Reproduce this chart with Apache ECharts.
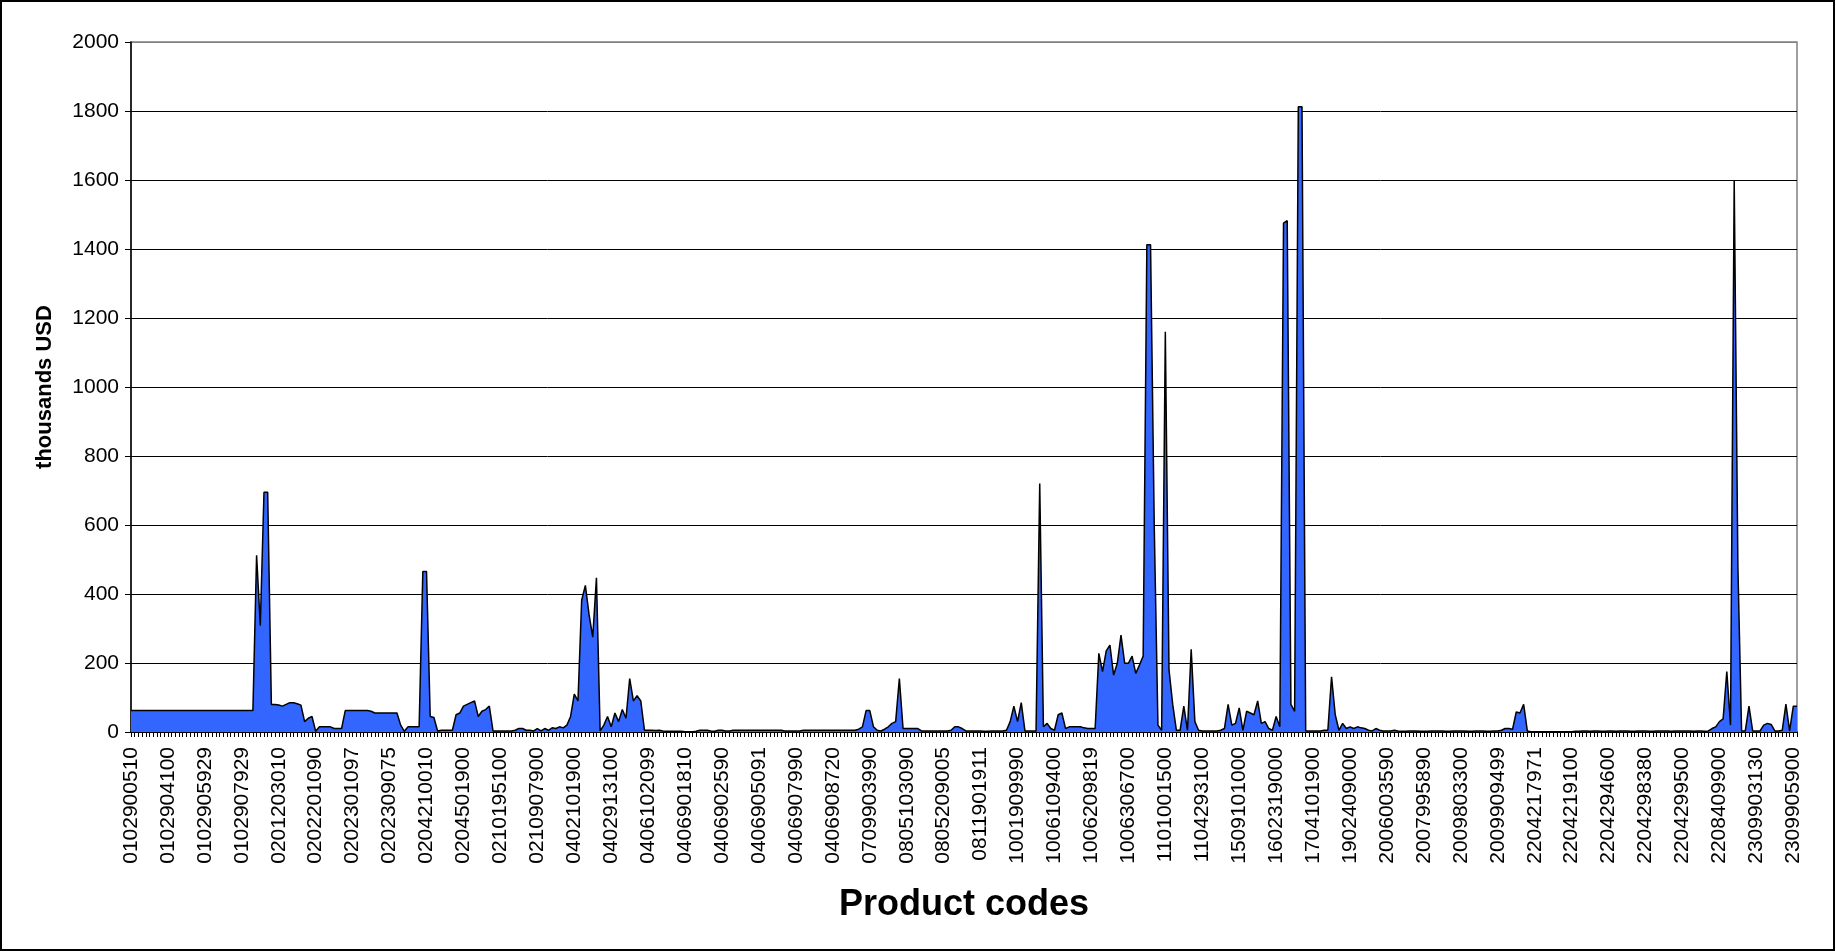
<!DOCTYPE html>
<html>
<head>
<meta charset="utf-8">
<script src="https://cdn.jsdelivr.net/npm/echarts@6/dist/echarts.min.js"></script>
<style>
html,body{margin:0;padding:0;background:#fff;}
#chart{width:1836px;height:952px;}
</style>
</head>
<body>
<div id="chart"></div>
<script>
// Labelled product codes (every 10th category)
const tickLabels = ["0102900510","0102904100","0102905929","0102907929","0201203010","0202201090","0202301097","0202309075","0204210010","0204501900","0210195100","0210907900","0402101900","0402913100","0406102099","0406901810","0406902590","0406905091","0406907990","0406908720","0709903990","0805103090","0805209005","0811901911","1001909990","1006109400","1006209819","1006306700","1101001500","1104293100","1509101000","1602319000","1704101900","1902409000","2006003590","2007995890","2009803300","2009909499","2204217971","2204219100","2204294600","2204298380","2204299500","2208409900","2309903130","2309905900"];
const labelEvery = 10;

// Values in thousands USD, one per product code
const values = [
62,62,62,62,62,62,62,62,62,62,
62,62,62,62,62,62,62,62,62,62,
62,62,62,62,62,62,62,62,62,62,
62,62,62,62,512,308,695,695,80,80,
78,75,80,85,85,82,78,30,40,45,
2,15,15,15,15,10,10,10,62,62,
62,62,62,62,62,60,55,55,55,55,
55,55,55,20,2,15,15,15,15,465,
465,45,42,3,5,5,5,5,50,55,
75,80,85,90,45,60,65,75,3,3,
3,3,3,3,5,10,10,5,5,3,
10,3,10,5,12,10,15,12,20,45,
110,90,382,425,340,275,447,3,20,45,
15,55,30,65,40,155,90,105,90,5,
5,5,4,5,3,2,2,2,2,2,
1,1,1,2,5,5,5,3,2,5,
5,3,3,5,5,5,5,5,5,5,
5,5,5,5,5,5,5,3,3,3,
3,3,5,5,5,5,5,5,5,5,
5,5,5,5,5,5,5,8,15,62,
62,15,5,3,8,15,25,30,155,10,
10,10,10,10,3,3,3,3,3,3,
3,3,5,15,15,10,3,3,3,3,
3,2,2,3,3,3,3,5,30,75,
30,85,3,3,3,3,720,15,25,10,
5,50,55,10,15,15,15,15,12,10,
10,10,228,175,235,252,165,199,281,199,
199,220,170,194,220,1412,1412,600,20,5,
1160,180,80,5,5,75,5,240,30,5,
3,3,3,3,3,5,10,80,20,25,
70,5,60,55,50,90,25,30,10,5,
45,15,1475,1482,80,60,1812,1812,3,3,
3,3,3,5,5,160,50,5,25,10,
15,10,15,12,10,5,3,10,5,3,
3,3,5,3,2,2,3,3,3,2,
2,2,3,3,3,3,2,2,3,3,
3,3,2,2,3,3,3,2,2,3,
3,5,10,10,8,58,55,80,3,1,
1,1,1,1,1,1,1,1,1,1,
1,2,2,3,3,2,3,3,2,2,
3,3,2,3,3,3,2,2,3,3,
3,2,2,3,3,3,3,2,3,3,
3,3,3,2,3,3,2,3,10,15,
30,38,175,20,1600,480,3,3,75,3,
3,3,20,25,22,3,3,5,81,3,
75,75
];

const yTicks = {min: 0, max: 2000, step: 200};

const categories = values.map((v, i) => (i % labelEvery === 0 && tickLabels[i / labelEvery]) ? tickLabels[i / labelEvery] : '');

const gridColors = [];
for (let v = yTicks.min; v <= yTicks.max; v += yTicks.step) gridColors.push(v === yTicks.max ? '#808080' : '#000000');

const chart = echarts.init(document.getElementById('chart'), null, {renderer: 'canvas'});
const font = "'Liberation Sans', Arial, sans-serif";
chart.setOption({
  animation: false,
  backgroundColor: '#ffffff',
  graphic: [{
    type: 'rect',
    shape: {x: 1, y: 1, width: 1833, height: 949},
    style: {fill: 'none', stroke: '#000', lineWidth: 2},
    z: 100
  }],
  grid: {left: 131, right: 39, top: 42, bottom: 220, show: true, borderColor: '#808080', borderWidth: 1.5, backgroundColor: 'transparent'},
  xAxis: {
    type: 'category',
    data: categories,
    boundaryGap: false,
    name: 'Product codes',
    nameLocation: 'middle',
    nameGap: 155,
    nameTextStyle: {fontFamily: font, fontSize: 36, fontWeight: 'bold', color: '#000'},
    axisLine: {lineStyle: {color: '#000', width: 1.5}},
    axisTick: {show: true, interval: 0, length: 5, lineStyle: {color: '#000', width: 1}},
    axisLabel: {interval: labelEvery - 1, rotate: 90, margin: 15, fontFamily: font, fontSize: 21, color: '#000'},
    splitLine: {show: false}
  },
  yAxis: {
    type: 'value',
    min: yTicks.min, max: yTicks.max, interval: yTicks.step,
    name: 'thousands USD',
    nameLocation: 'middle',
    nameGap: 75,
    nameTextStyle: {fontFamily: font, fontSize: 22, fontWeight: 'bold', color: '#000'},
    axisLine: {show: true, lineStyle: {color: '#000', width: 1.5}},
    axisTick: {show: true, length: 6, lineStyle: {color: '#000', width: 1}},
    axisLabel: {margin: 12, fontFamily: font, fontSize: 21, color: '#000', formatter: v => String(v)},
    splitLine: {show: true, lineStyle: {color: gridColors, width: 1}}
  },
  series: [{
    type: 'line',
    data: values,
    symbol: 'none',
    smooth: false,
    lineStyle: {color: '#000', width: 1.5},
    areaStyle: {color: '#3366FF', opacity: 1},
    z: 3
  }]
});
</script>
</body>
</html>
